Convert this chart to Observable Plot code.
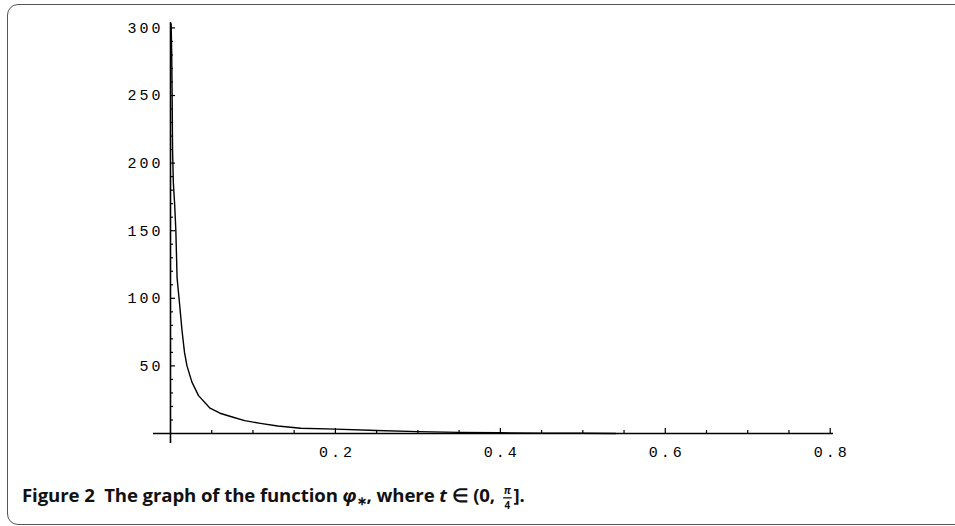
<!DOCTYPE html>
<html><head><meta charset="utf-8">
<script src="https://cdn.jsdelivr.net/npm/d3@7"></script>
<script src="https://cdn.jsdelivr.net/npm/@observablehq/plot@0.6"></script>
<style>
body{margin:0;background:#fff;width:955px;height:526px;overflow:hidden;position:relative;}
#frame{position:absolute;left:7px;top:4px;width:1000px;height:521px;border:1.8px solid #555;border-radius:11px;box-sizing:border-box;}
#chart{position:absolute;left:0;top:0;}
#caption{position:absolute;left:22px;top:482px;height:26px;line-height:26px;font-family:"Open Sans",sans-serif;font-weight:700;font-size:18.6px;color:#111;white-space:nowrap;letter-spacing:-0.1px;}
#caption i{font-style:italic;}
#caption sub{font-size:12px;vertical-align:-3px;line-height:0;}
.frac{display:inline-block;vertical-align:middle;text-align:center;font-size:15px;line-height:20.5px;margin:-11px 0 -11px 1px;transform:scale(0.66);letter-spacing:0;}
.frac span{display:block;padding:0 1px;}
.frac .num{border-bottom:2px solid #111;font-style:italic;}
</style></head><body>
<div id="frame"></div>
<div id="chart"></div>
<div id="caption">Figure 2&nbsp;&nbsp;The graph of the function <i>φ</i><sub>∗</sub>, where <i>t</i> ∈ (0, <span class="frac"><span class="num">π</span><span>4</span></span>].</div>
<script>
// Curve samples
const tValues   = [0.0008, 0.0015, 0.002, 0.0025, 0.0035, 0.005, 0.0065, 0.008, 0.011, 0.014, 0.017, 0.02, 0.026, 0.034, 0.048, 0.06, 0.076, 0.09, 0.109, 0.13, 0.158, 0.2, 0.25, 0.3, 0.35, 0.4, 0.45, 0.5, 0.54];
const phiValues = [303, 280, 250, 210, 185, 170, 150, 115, 96, 76, 60, 50, 38, 28, 18.7, 15, 12, 9.5, 7.5, 5.5, 3.9, 3.2, 2.2, 1.4, 0.8, 0.5, 0.3, 0.15, 0.05];

// Ticks
const xMajor = [0.2, 0.4, 0.6, 0.8];
const xTickLabels = ["0.2", "0.4", "0.6", "0.8"];
const xMinor = [0.05, 0.1, 0.15, 0.25, 0.3, 0.35, 0.45, 0.5, 0.55, 0.65, 0.7, 0.75];
const yMajor = [50, 100, 150, 200, 250, 300];
const yTickLabels = ["50", "100", "150", "200", "250", "300"];
const yMinor = [10, 20, 30, 40, 60, 70, 80, 90, 110, 120, 130, 140, 160, 170, 180, 190, 210, 220, 230, 240, 260, 270, 280, 290];

const points = tValues.map((t, i) => ({t, phi: phiValues[i]}));

const xDomain = [-0.0206, 0.804];
const yDomain = [-7.4, 304];
const W = 955, H = 470, mL = 153, mR = 122, mT = 22, mB = 27;
// tick lengths converted from pixels to data units
const pxX = (xDomain[1] - xDomain[0]) / (W - mL - mR);
const pxY = (yDomain[1] - yDomain[0]) / (H - mT - mB);

const labelFont = {fontFamily: "Liberation Mono, monospace", fontSize: 15, fill: "#000"};

const chart = Plot.plot({
  width: W, height: H,
  marginLeft: mL, marginRight: mR, marginTop: mT, marginBottom: mB,
  x: {domain: xDomain, axis: null},
  y: {domain: yDomain, axis: null},
  style: {background: "transparent", overflow: "visible"},
  marks: [
    Plot.ruleY([0], {stroke: "#000", strokeWidth: 1.6}),
    Plot.ruleX([0], {stroke: "#000", strokeWidth: 1.6}),
    Plot.ruleX(xMajor, {x: d => d, y1: 0, y2: 5 * pxY, stroke: "#000", strokeWidth: 1.2}),
    Plot.ruleX(xMinor, {x: d => d, y1: 0, y2: 3 * pxY, stroke: "#000", strokeWidth: 1.2}),
    Plot.ruleY(yMajor, {y: d => d, x1: 0, x2: 5 * pxX, stroke: "#000", strokeWidth: 1.2}),
    Plot.ruleY(yMinor, {y: d => d, x1: 0, x2: 3 * pxX, stroke: "#000", strokeWidth: 1.2}),
    Plot.line(points, {x: "t", y: "phi", stroke: "#000", strokeWidth: 1.4, curve: "linear"}),
    Plot.text(xMajor, {x: d => d, y: 0, text: (d, i) => xTickLabels[i], dy: 19, dx: 1.5, ...labelFont}),
    Plot.text(yMajor, {x: 0, y: d => d, text: (d, i) => yTickLabels[i], dx: -7, textAnchor: "end", ...labelFont})
  ]
});
chart.querySelectorAll("text").forEach(t => t.style.letterSpacing = "3px");
document.getElementById("chart").appendChild(chart);
</script>
</body></html>
